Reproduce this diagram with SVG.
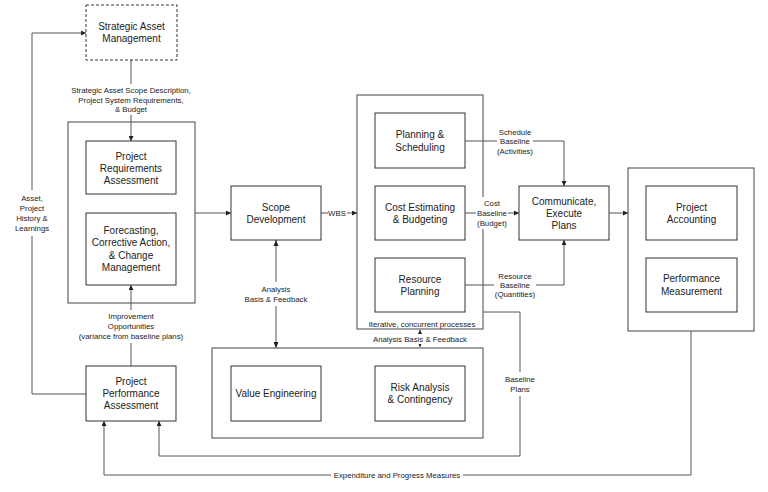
<svg xmlns="http://www.w3.org/2000/svg" width="768" height="492" viewBox="0 0 768 492">
<defs>
<marker id="ah" viewBox="0 0 10 10" refX="10" refY="5" markerWidth="5" markerHeight="5" orient="auto-start-reverse" markerUnits="userSpaceOnUse">
<path d="M0,0 L10,5 L0,10 z" fill="#222"/>
</marker>
<style>
.box{fill:#fff;stroke:#333;stroke-width:1}
.grp{fill:none;stroke:#444;stroke-width:1}
.dash{fill:#fff;stroke:#333;stroke-width:1;stroke-dasharray:3,2}
.t{font-family:"Liberation Sans",Arial,sans-serif;font-size:10px;fill:#222;text-anchor:middle}
.s{font-family:"Liberation Sans",Arial,sans-serif;font-size:7.8px;fill:#222;text-anchor:middle}
.ln{fill:none;stroke:#555;stroke-width:1}
.ar{fill:none;stroke:#555;stroke-width:1;marker-end:url(#ah)}
.ar2{fill:none;stroke:#555;stroke-width:1;marker-end:url(#ah);marker-start:url(#ah)}
</style>
</defs>
<rect width="768" height="492" fill="#fff"/>

<g id="containers">
<rect id="grp-left" class="grp" x="68" y="122" width="127" height="181"/>
<rect id="grp-mid" class="grp" x="357" y="95" width="126" height="234"/>
<rect id="grp-right" class="grp" x="628" y="168" width="126" height="163"/>
<rect id="grp-bottom" class="grp" x="212" y="348" width="271" height="90"/>
</g>

<g id="connectors">
<!-- SAM to PRA -->
<path class="ln" d="M131,60 V84"/>
<path class="ar" d="M131,115 V141"/>
<!-- left group to Scope -->
<path class="ar" d="M195,213 H231"/>
<!-- WBS -->
<path class="ln" d="M321,213 H328"/>
<path class="ar" d="M347,213 H357"/>
<!-- Scope <-> analysis -->
<path class="ln" d="M276,240 V282"/>
<path class="ln" d="M276,306 V348"/>
<path d="M276,240 l-2.5,6 h5 z" fill="#222"/>
<path d="M276,348 l-2.5,-6 h5 z" fill="#222"/>
<!-- middle analysis basis feedback -->
<path class="ar2" d="M420,330 V347"/>
<!-- Schedule baseline -->
<path class="ln" d="M465,141 H497"/>
<path class="ar" d="M533,141 H564 V186"/>
<!-- Cost baseline -->
<path class="ln" d="M465,213 H476"/>
<path class="ar" d="M508,213 H519"/>
<!-- Resource baseline -->
<path class="ln" d="M465,285 H494"/>
<path class="ar" d="M536,285 H564 V240"/>
<!-- Communicate to right group -->
<path class="ar" d="M609,213 H628"/>
<!-- Baseline plans -->
<path class="ln" d="M483,312 H520 V372"/>
<path class="ar" d="M520,396 V456 H159 V421"/>
<!-- Expenditure -->
<path class="ln" d="M691,331 V475 H463"/>
<path class="ar" d="M331,475 H104 V421"/>
<!-- Improvement -->
<path class="ln" d="M131,366 V343"/>
<path class="ar" d="M131,310 V285"/>
<!-- Asset history -->
<path class="ln" d="M86,394 H32 V236"/>
<path class="ar" d="M32,190 V33 H86"/>
</g>

<g id="labels">
<text class="s" x="131" y="93">Strategic Asset Scope Description,</text>
<text class="s" x="131" y="102.5">Project System Requirements,</text>
<text class="s" x="131" y="112">&amp; Budget</text>
<text class="s" x="32" y="201">Asset,</text>
<text class="s" x="32" y="211">Project</text>
<text class="s" x="32" y="221">History &amp;</text>
<text class="s" x="32" y="231">Learnings</text>
<text class="s" x="131" y="319">Improvement</text>
<text class="s" x="131" y="329">Opportunities</text>
<text class="s" x="131" y="339">(variance from baseline plans)</text>
<text class="s" x="337" y="216">WBS</text>
<text class="s" x="276" y="292">Analysis</text>
<text class="s" x="276" y="302">Basis &amp; Feedback</text>
<text class="s" x="515" y="135">Schedule</text>
<text class="s" x="515" y="144">Baseline</text>
<text class="s" x="515" y="154">(Activities)</text>
<rect x="477" y="197" width="30" height="32" fill="#fff"/>
<text class="s" x="492" y="206">Cost</text>
<text class="s" x="492" y="216">Baseline</text>
<text class="s" x="492" y="226">(Budget)</text>
<text class="s" x="515" y="279">Resource</text>
<text class="s" x="515" y="288">Baseline</text>
<text class="s" x="515" y="297">(Quantities)</text>
<text class="s" x="422" y="327">Iterative, concurrent processes</text>
<rect x="370" y="334" width="100" height="10" fill="#fff"/>
<text class="s" x="420" y="342">Analysis Basis &amp; Feedback</text>
<text class="s" x="520" y="382">Baseline</text>
<text class="s" x="520" y="392">Plans</text>
<text class="s" x="397" y="478">Expenditure and Progress Measures</text>
</g>

<g id="n-sam">
<rect class="dash" x="86" y="5" width="91" height="55"/>
<text class="t" x="131.5" y="30">Strategic Asset</text>
<text class="t" x="131.5" y="42">Management</text>
</g>
<g id="n-pra">
<rect class="box" x="86" y="141" width="90" height="53"/>
<text class="t" x="131" y="159.5">Project</text>
<text class="t" x="131" y="171.5">Requirements</text>
<text class="t" x="131" y="183.5">Assessment</text>
</g>
<g id="n-forecast">
<rect class="box" x="86" y="213" width="90" height="72"/>
<text class="t" x="131" y="234">Forecasting,</text>
<text class="t" x="131" y="246">Corrective Action,</text>
<text class="t" x="131" y="258.5">&amp; Change</text>
<text class="t" x="131" y="270.5">Management</text>
</g>
<g id="n-scope">
<rect class="box" x="231" y="186" width="90" height="54"/>
<text class="t" x="276" y="210.5">Scope</text>
<text class="t" x="276" y="222.5">Development</text>
</g>
<g id="n-planning">
<rect class="box" x="375" y="113" width="90" height="55"/>
<text class="t" x="420" y="138">Planning &amp;</text>
<text class="t" x="420" y="150.5">Scheduling</text>
</g>
<g id="n-cost">
<rect class="box" x="375" y="186" width="90" height="54"/>
<text class="t" x="420" y="210.5">Cost Estimating</text>
<text class="t" x="420" y="222.5">&amp; Budgeting</text>
</g>
<g id="n-resource">
<rect class="box" x="375" y="258" width="90" height="54"/>
<text class="t" x="420" y="282.5">Resource</text>
<text class="t" x="420" y="294.5">Planning</text>
</g>
<g id="n-communicate">
<rect class="box" x="519" y="186" width="90" height="54"/>
<text class="t" x="564" y="204.5">Communicate,</text>
<text class="t" x="564" y="216.5">Execute</text>
<text class="t" x="564" y="228.5">Plans</text>
</g>
<g id="n-accounting">
<rect class="box" x="646" y="186" width="91" height="54"/>
<text class="t" x="691.5" y="210.5">Project</text>
<text class="t" x="691.5" y="222.5">Accounting</text>
</g>
<g id="n-performance">
<rect class="box" x="646" y="258" width="91" height="54"/>
<text class="t" x="691.5" y="282">Performance</text>
<text class="t" x="691.5" y="294.5">Measurement</text>
</g>
<g id="n-ppa">
<rect class="box" x="86" y="366" width="90" height="55"/>
<text class="t" x="131" y="384.5">Project</text>
<text class="t" x="131" y="396.5">Performance</text>
<text class="t" x="131" y="408.5">Assessment</text>
</g>
<g id="n-value">
<rect class="box" x="231" y="366" width="90" height="55"/>
<text class="t" x="276" y="396.5">Value Engineering</text>
</g>
<g id="n-risk">
<rect class="box" x="375" y="366" width="90" height="55"/>
<text class="t" x="420" y="390.5">Risk Analysis</text>
<text class="t" x="420" y="402.5">&amp; Contingency</text>
</g>
</svg>
